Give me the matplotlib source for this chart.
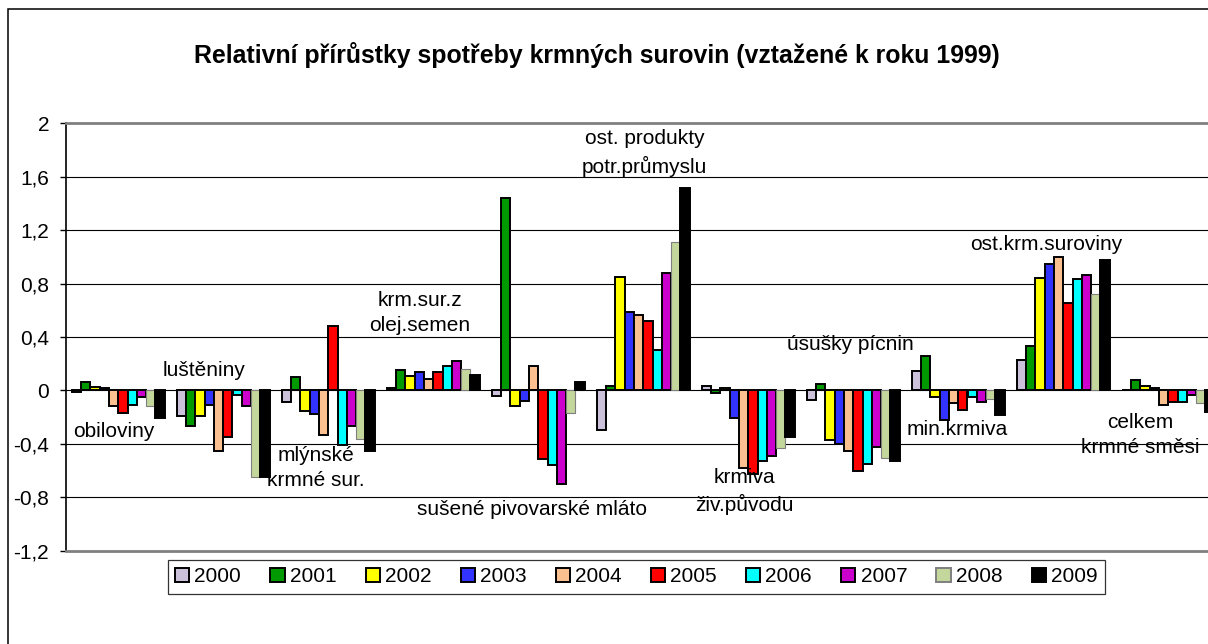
import numpy as np
import matplotlib
matplotlib.use("Agg")
import matplotlib.pyplot as plt
from matplotlib.patches import Rectangle, Patch

plt.rcParams['font.family'] = ['Liberation Sans', 'DejaVu Sans']

categories = ["obiloviny", "luštěniny", "mlýnské\nkrmné sur.", "krm.sur.z\nolej.semen",
              "sušené pivovarské mláto", "ost. produkty\npotr.průmyslu", "krmiva\nživ.původu",
              "úsušky pícnin", "min.krmiva", "ost.krm.suroviny", "celkem\nkrmné směsi"]
years = ["2000", "2001", "2002", "2003", "2004", "2005", "2006", "2007", "2008", "2009"]

v2000 = [-0.01, -0.195, -0.09, 0.015, -0.04, -0.30, 0.035, -0.07, 0.143, 0.23, 0.0]
v2001 = [0.06, -0.265, 0.098, 0.15, 1.438, 0.035, -0.02, 0.045, 0.255, 0.335, 0.08]
v2002 = [0.025, -0.19, -0.152, 0.11, -0.115, 0.85, 0.018, -0.37, -0.05, 0.843, 0.03]
v2003 = [0.015, -0.107, -0.178, 0.138, -0.082, 0.588, -0.207, -0.40, -0.225, 0.95, 0.015]
v2004 = [-0.12, -0.45, -0.33, 0.085, 0.185, 0.568, -0.582, -0.457, -0.095, 1.0, -0.107]
v2005 = [-0.17, -0.352, 0.485, 0.135, -0.51, 0.523, -0.625, -0.60, -0.15, 0.655, -0.087]
v2006 = [-0.11, -0.037, -0.41, 0.18, -0.557, 0.30, -0.532, -0.55, -0.05, 0.835, -0.087]
v2007 = [-0.05, -0.115, -0.27, 0.22, -0.70, 0.88, -0.49, -0.42, -0.09, 0.862, -0.032]
v2008 = [-0.115, -0.645, -0.36, 0.16, -0.17, 1.115, -0.432, -0.507, -0.065, 0.723, -0.095]
v2009 = [-0.21, -0.645, -0.45, 0.113, 0.06, 1.513, -0.35, -0.525, -0.182, 0.978, -0.165]
series = [v2000, v2001, v2002, v2003, v2004, v2005, v2006, v2007, v2008, v2009]

colors = ["#CCC1DA", "#009900", "#FFFF00", "#3333FF", "#FAC090", "#FF0000",
          "#00FFFF", "#CC00CC", "#C3D69B", "#000000"]
edgecolors = ["black"] * 8 + ["#7F7F7F", "black"]

yticks = [-1.2, -0.8, -0.4, 0, 0.4, 0.8, 1.2, 1.6, 2]
yticklabels = ["-1,2", "-0,8", "-0,4", "0", "0,4", "0,8", "1,2", "1,6", "2"]

# label positions (data coords) for category names
label_x = [-0.04, 0.815, 1.879, 2.871, 3.941, 5.012, 5.96, 6.969, 7.993, 8.834, 9.731]
label_y = [-0.307, 0.15, -0.582, 0.58, -0.895, 1.778, -0.754, 0.343, -0.29, 1.093, -0.335]

W, H = 1208, 644
fig = plt.figure(figsize=(W / 100, H / 100), dpi=100)
ax = fig.add_axes([65.7 / W, 1 - 550.7 / H, (1220.7 - 65.7) / W, (550.7 - 123.3) / H])

x = np.arange(len(categories))
bw = 9.3 / 105
for j, (vals, c, ec) in enumerate(zip(series, colors, edgecolors)):
    ax.bar(x + (j - 4.5) * bw, vals, width=bw, color=c, edgecolor=ec,
           linewidth=1.4 if ec == "black" else 0.8, zorder=3)

ax.set_xlim(-0.5, len(categories) - 0.5)
ax.set_ylim(-1.2, 2.0)
ax.set_yticks(yticks)
ax.set_yticklabels(yticklabels, fontsize=15)
ax.set_xticks([])
ax.tick_params(axis='y', direction='out', length=4, width=1, pad=8, colors='black')
for yv in yticks[1:-1]:
    ax.axhline(yv, color='black', linewidth=0.8, zorder=1)

ax.spines['left'].set_color('black')
ax.spines['left'].set_linewidth(1.2)
ax.spines['top'].set_color('#808080')
ax.spines['top'].set_linewidth(2)
ax.spines['bottom'].set_color('#808080')
ax.spines['bottom'].set_linewidth(2)
ax.spines['right'].set_visible(False)

for name, lx, ly in zip(categories, label_x, label_y):
    ax.text(lx, ly, name, ha='center', va='center', fontsize=15, linespacing=1.42, zorder=5)

fig.text(596.7 / W, 1 - 55 / H, "Relativní přírůstky spotřeby krmných surovin (vztažené k roku 1999)",
         ha='center', va='center', fontsize=17.9, fontweight='bold')

# outer chart border (cropped at right and bottom)
fig.patches.append(Rectangle((8.3 / W, -0.2), 2.0, 1.2 - 9.3 / H, transform=fig.transFigure,
                             fill=False, edgecolor='black', linewidth=1.1, clip_on=False))

handles = [Patch(facecolor=c, edgecolor=ec, linewidth=1.4) for c, ec in zip(colors, edgecolors)]
leg = fig.legend(handles, years, loc='center', bbox_to_anchor=(636.3 / W, 1 - 577 / H),
                 ncol=10, fontsize=15, frameon=True, fancybox=False, shadow=False,
                 handlelength=0.68, handleheight=0.68, handletextpad=0.25,
                 columnspacing=1.4, borderpad=0.35, borderaxespad=0)
leg.get_frame().set_edgecolor('black')
leg.get_frame().set_linewidth(0.9)

fig.savefig("out.png", dpi=100)
